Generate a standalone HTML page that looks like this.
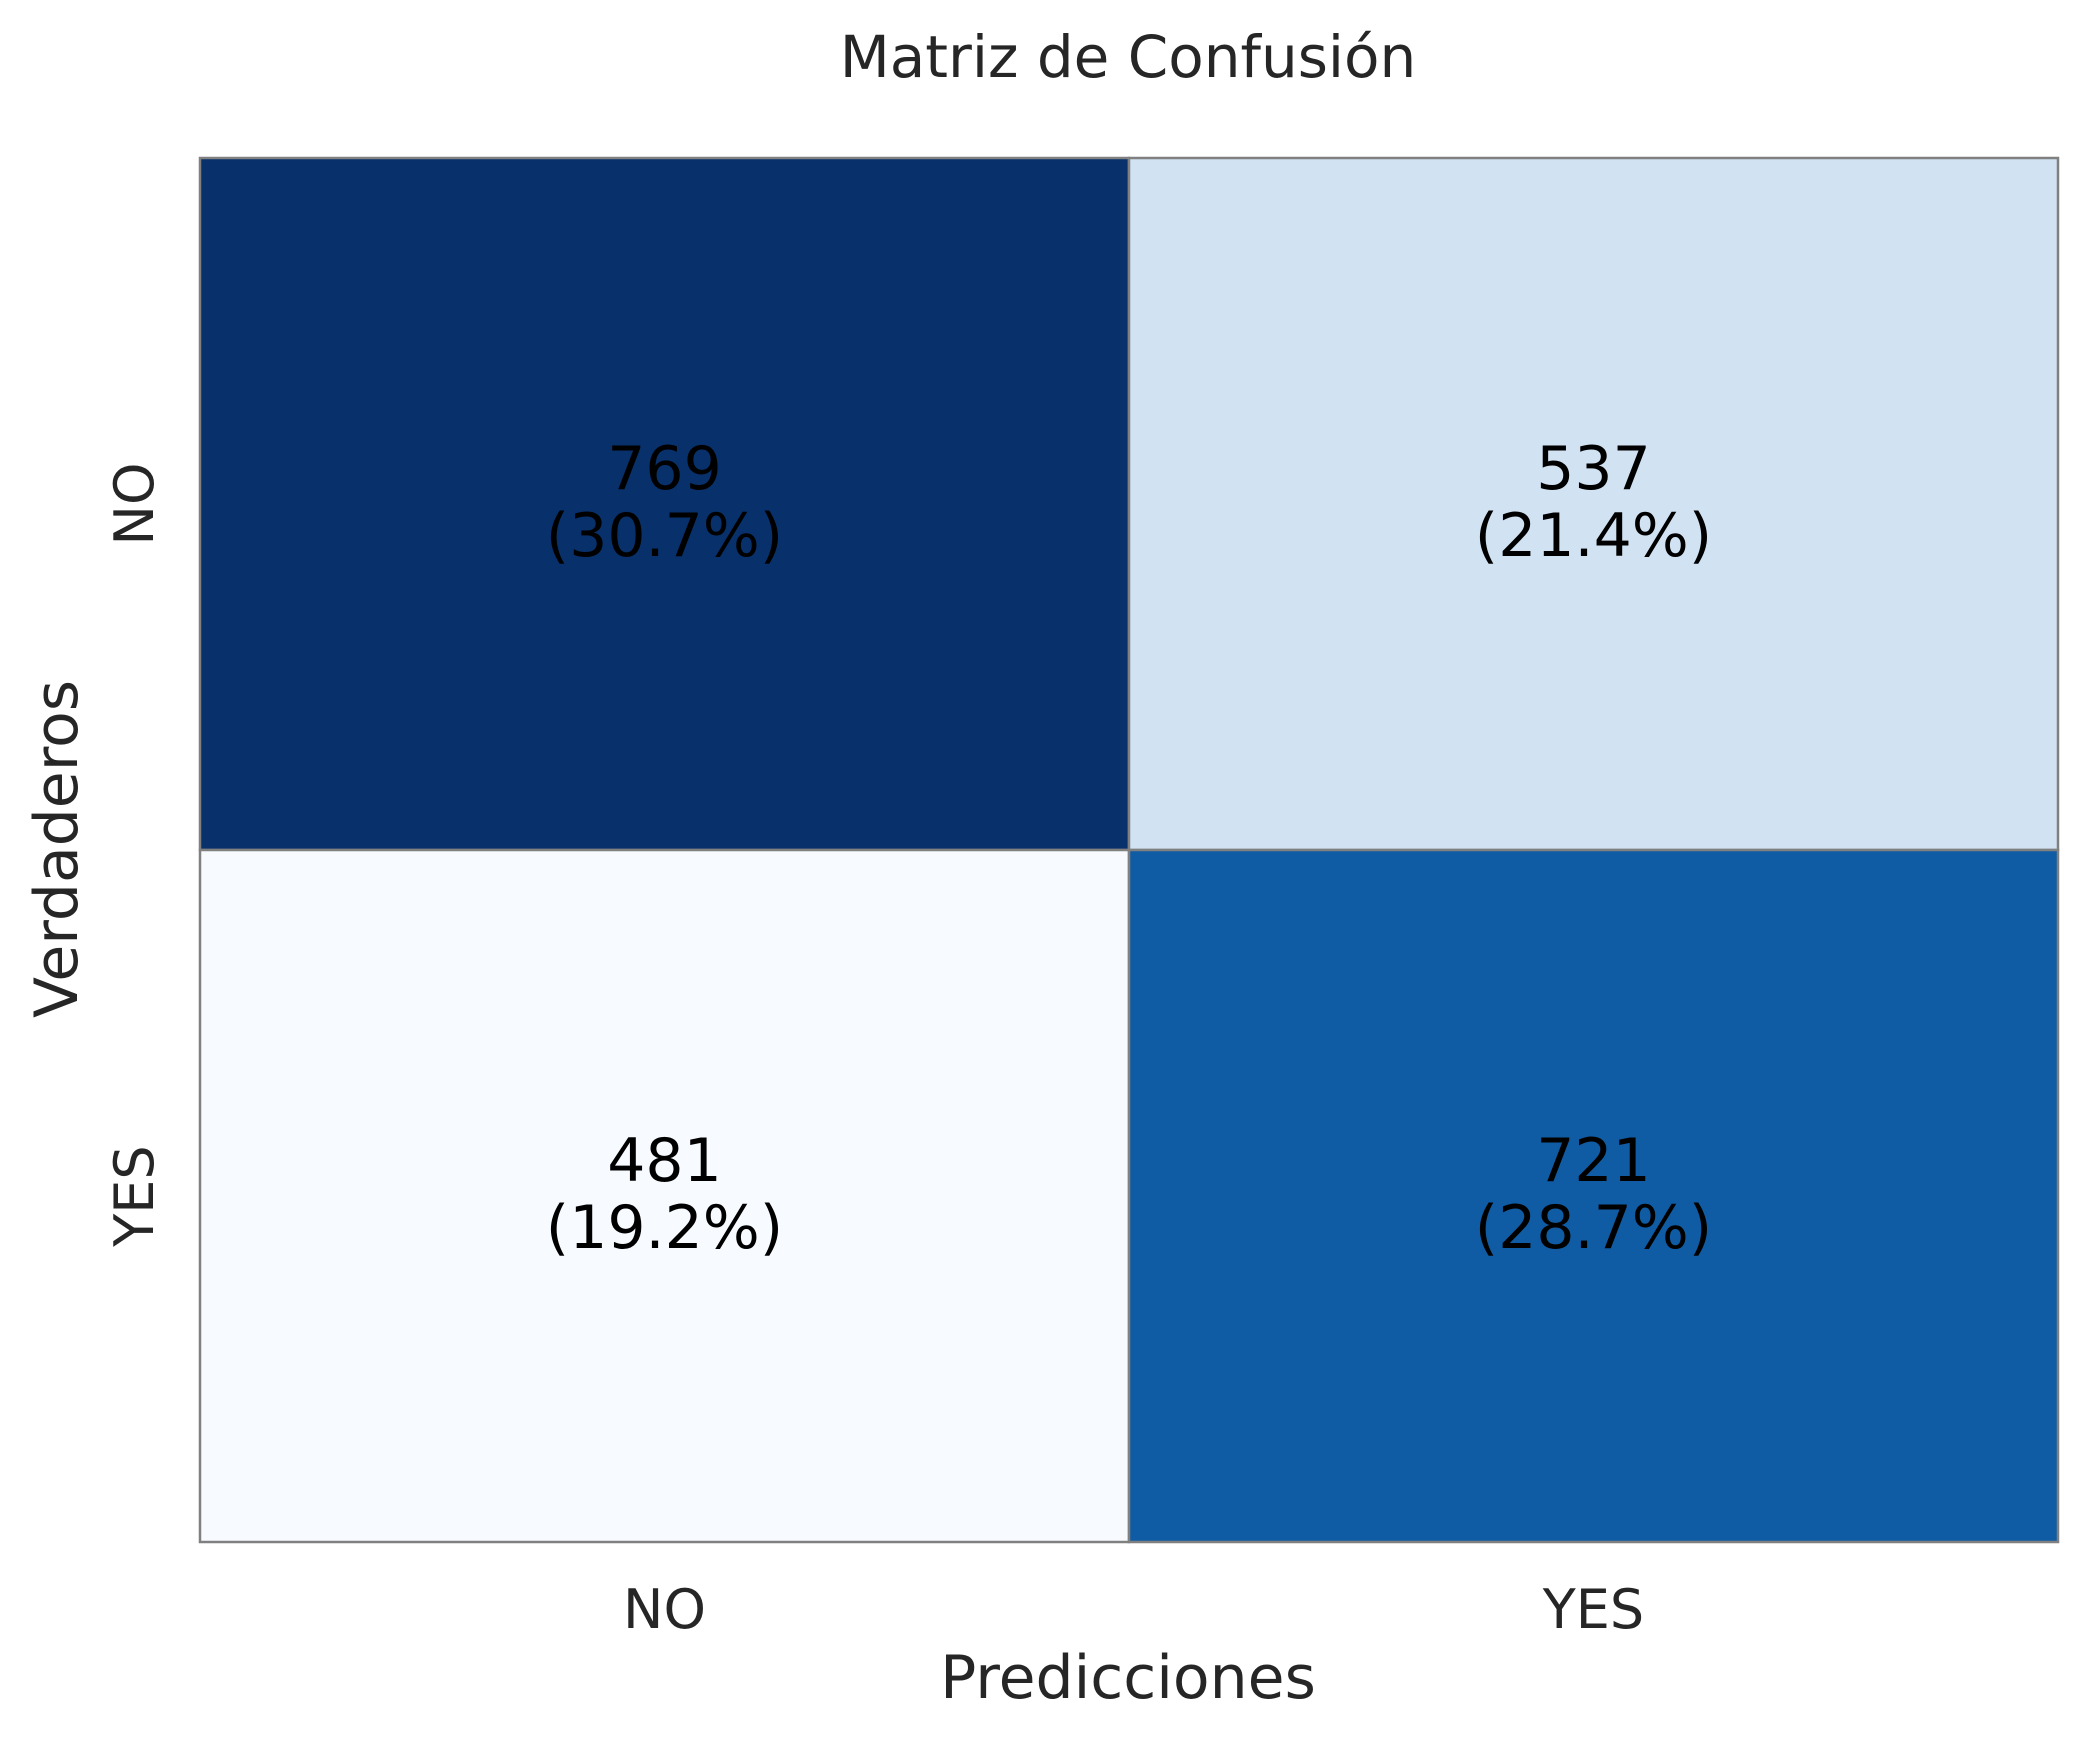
<!DOCTYPE html>
<html><head><meta charset="utf-8"><style>
html,body{margin:0;padding:0;background:#fff;}
svg text{font-family:"DejaVu Sans","Liberation Sans",sans-serif;}
</style></head><body>
<svg id="chart" width="2089" height="1743" viewBox="0 0 2089 1743" xmlns="http://www.w3.org/2000/svg">
<rect x="0" y="0" width="2089" height="1743" fill="#ffffff"/>
<text x="1128" y="77" font-size="58" fill="#262626" text-anchor="middle">Matriz de Confusión</text>
<g id="cells"></g>
<g id="labels"></g>
<text x="1128" y="1698" font-size="60" fill="#262626" text-anchor="middle">Predicciones</text>
<text transform="translate(77,849) rotate(-90)" x="0" y="0" font-size="60" fill="#262626" text-anchor="middle">Verdaderos</text>
</svg>
<script>
const rowLabels = ["NO", "YES"];
const colLabels = ["NO", "YES"];
const counts = [[769, 537], [481, 721]];
const percents = ["30.7%", "21.4%", "19.2%", "28.7%"];

const NS = "http://www.w3.org/2000/svg";
const L = 200, T = 158, R = 2058, B = 1542;
const cw = (R - L) / colLabels.length, ch = (B - T) / rowLabels.length;
function xPos(i){ return L + i * cw; }
function yPos(i){ return T + i * ch; }
const flat = counts.flat();
const vmin = Math.min(...flat), vmax = Math.max(...flat);
const stops = [[247,251,255],[222,235,247],[198,219,239],[158,202,225],[107,174,214],[66,146,198],[33,113,181],[8,81,156],[8,48,107]];
function blues(t){
  t = Math.max(0, Math.min(1, t));
  const p = t * (stops.length - 1), i = Math.min(Math.floor(p), stops.length - 2), f = p - i;
  const c = stops[i].map((v, k) => Math.round(v + (stops[i+1][k] - v) * f));
  return `rgb(${c[0]},${c[1]},${c[2]})`;
}
const cells = document.getElementById('cells');
const labels = document.getElementById('labels');
counts.forEach((row, r) => {
  row.forEach((v, c) => {
    const rect = document.createElementNS(NS, 'rect');
    rect.setAttribute('x', xPos(c)); rect.setAttribute('y', yPos(r));
    rect.setAttribute('width', cw); rect.setAttribute('height', ch);
    rect.setAttribute('fill', blues((v - vmin) / (vmax - vmin)));
    rect.setAttribute('stroke', '#808080'); rect.setAttribute('stroke-width', '2.5');
    
    
    cells.appendChild(rect);
    const cx = xPos(c) + cw / 2, cy = yPos(r) + ch / 2;
    const t1 = document.createElementNS(NS, 'text');
    t1.setAttribute('x', cx); t1.setAttribute('y', cy - 15);
    t1.setAttribute('font-size', '60'); t1.setAttribute('text-anchor', 'middle'); t1.setAttribute('fill', '#000');
    t1.textContent = String(v);
    
    
    cells.appendChild(t1);
    const t2 = document.createElementNS(NS, 'text');
    t2.setAttribute('x', cx); t2.setAttribute('y', cy + 52);
    t2.setAttribute('font-size', '60'); t2.setAttribute('text-anchor', 'middle'); t2.setAttribute('fill', '#000');
    t2.textContent = '(' + percents[r * row.length + c] + ')';
    
    
    cells.appendChild(t2);
  });
});
colLabels.forEach((lab, c) => {
  const t = document.createElementNS(NS, 'text');
  t.setAttribute('x', xPos(c) + cw / 2); t.setAttribute('y', 1628);
  t.setAttribute('font-size', '54'); t.setAttribute('text-anchor', 'middle'); t.setAttribute('fill', '#262626');
  t.textContent = lab;
  
  
  labels.appendChild(t);
});
rowLabels.forEach((lab, r) => {
  const t = document.createElementNS(NS, 'text');
  t.setAttribute('transform', `translate(153,${yPos(r) + ch / 2}) rotate(-90)`);
  t.setAttribute('font-size', '54'); t.setAttribute('text-anchor', 'middle'); t.setAttribute('fill', '#262626');
  t.textContent = lab;
  
  
  labels.appendChild(t);
});
</script>
</body></html>
